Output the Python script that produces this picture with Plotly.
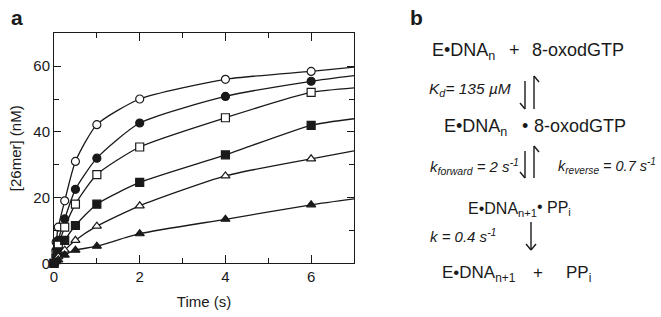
import plotly.graph_objects as go

# ---------------- data ----------------
time_s = [0, 0.05, 0.1, 0.25, 0.5, 1, 2, 4, 6]
open_circle = [0, 6.5, 11, 19, 31, 42.2, 50, 56, 58.4]
filled_circle = [0, 4, 7, 13.5, 22.5, 32, 42.7, 50.8, 55.4]
open_square = [0, 3, 5.5, 11, 18, 27, 35.4, 44.3, 52]
filled_square = [0, 1.5, 3.5, 7, 11.5, 18, 24.6, 33, 42]
open_triangle = [0, 1, 2, 4, 7, 11.3, 17.5, 26.6, 31.8]
filled_triangle = [0, 0.5, 1, 2.5, 4, 5.2, 9, 13.4, 17.8]
fit_end_time = 7
fit_end_values = [59.7, 57.1, 53.4, 44, 34.2, 19.6]

x_ticks = [0, 2, 4, 6]
y_ticks = [0, 20, 40, 60]

W, H = 661, 317
FONT = "Liberation Sans, Arial, Helvetica, sans-serif"
INK = "#1a1a1a"

def px(x):
    return x / W

def py(y):
    return 1 - y / H

series = [
    (open_circle, "circle", False),
    (filled_circle, "circle", True),
    (open_square, "square", False),
    (filled_square, "square", True),
    (open_triangle, "triangle-up", False),
    (filled_triangle, "triangle-up", True),
]

fig = go.Figure()
for (vals, sym, filled), end in zip(series, fit_end_values):
    fig.add_trace(go.Scatter(
        x=time_s + [fit_end_time], y=vals + [end], mode="lines",
        line=dict(color=INK, width=1.3, shape="spline", smoothing=0.6),
        hoverinfo="skip", showlegend=False))
for vals, sym, filled in series:
    fig.add_trace(go.Scatter(
        x=time_s, y=vals, mode="markers", cliponaxis=False,
        marker=dict(symbol=sym, size=8,
                    color=INK if filled else "white",
                    line=dict(color=INK, width=1.2)),
        showlegend=False))

x0, x1, yt, yb = 54, 354, 33.3, 263.3
fig.update_layout(
    width=W, height=H, margin=dict(l=0, r=0, t=0, b=0, autoexpand=False),
    paper_bgcolor="white", plot_bgcolor="white",
    font=dict(family=FONT, color=INK, size=15),
    xaxis=dict(domain=[px(x0), px(x1)], range=[0, 7], automargin=False,
               tickvals=x_ticks, ticktext=[str(v) for v in x_ticks],
               ticks="inside", ticklen=8, tickwidth=1, tickcolor=INK,
               minor=dict(dtick=1, tick0=0, ticks="inside", ticklen=5, tickcolor=INK),
               showline=True, linecolor=INK, linewidth=1, mirror="ticks",
               showgrid=False, zeroline=False,
               title=dict(text="Time (s)", font=dict(size=15), standoff=12),
               tickfont=dict(size=15)),
    yaxis=dict(domain=[py(yb), py(yt)], range=[0, 70], automargin=False,
               tickvals=y_ticks, ticktext=[str(v) for v in y_ticks],
               ticks="inside", ticklen=7, tickwidth=1, tickcolor=INK,
               minor=dict(dtick=10, tick0=0, ticks="inside", ticklen=5, tickcolor=INK),
               showline=True, linecolor=INK, linewidth=1, mirror="ticks",
               showgrid=False, zeroline=False,
               title=dict(text="[26mer] (nM)", font=dict(size=15), standoff=8),
               tickfont=dict(size=15)),
)

ann = []
def text(x, y, s, size=18, anchor="left"):
    ann.append(dict(x=px(x), y=py(y), xref="paper", yref="paper", text=s,
                    showarrow=False, xanchor=anchor, yanchor="middle",
                    borderpad=0, font=dict(family=FONT, size=size, color=INK)))

text(17, 18, "<b>a</b>", size=21, anchor="center")
text(416, 18, "<b>b</b>", size=21, anchor="center")
# row 1
text(431, 52, "E•DNA<sub>n</sub>")
text(514, 50, "+", anchor="center")
text(531, 50, "8-oxodGTP")
text(428, 89, "<i>K<sub>d</sub>= 135 µM</i>", size=15.5)
# row 2
text(443, 128, "E•DNA<sub>n</sub>")
text(525, 126, "•", anchor="center")
text(533, 126, "8-oxodGTP")
text(429, 166, "<i>k<sub>forward</sub> = 2 s<sup>-1</sup></i>", size=15)
text(557, 166, "<i>k<sub>reverse</sub> = 0.7 s<sup>-1</sup></i>", size=14.5)
# row 3
text(467, 209, "E•DNA<sub>n+1</sub>", size=16)
text(540, 206, "•", anchor="center", size=16)
text(546, 208, "PP<sub>i</sub>", size=16)
text(429, 235, "<i>k = 0.4 s<sup>-1</sup></i>", size=15)
# row 4
text(441, 274, "E•DNA<sub>n+1</sub>", size=17)
text(538, 272, "+", anchor="center", size=17)
text(565, 274, "PP<sub>i</sub>", size=17)
fig.update_layout(annotations=ann)

shapes = []
def seg(xa, ya, xb, yb_):
    shapes.append(dict(type="line", xref="paper", yref="paper",
                       x0=px(xa), y0=py(ya), x1=px(xb), y1=py(yb_),
                       line=dict(color=INK, width=1.4)))

# equilibrium harpoons
for top, bot in [(76, 109), (146, 178)]:
    seg(525, top + 5, 525, bot)
    seg(525, bot, 520, bot - 6)
    seg(534, top, 534, bot)
    seg(534, top, 539, top + 6)
# single arrow
seg(531, 222, 531, 250)
seg(531, 250, 526, 244)
seg(531, 250, 536, 244)
fig.update_layout(shapes=shapes)

fig.write_html("out.html", config={"displayModeBar": False},
               post_script="document.body.style.margin='0';document.body.style.padding='0';")
